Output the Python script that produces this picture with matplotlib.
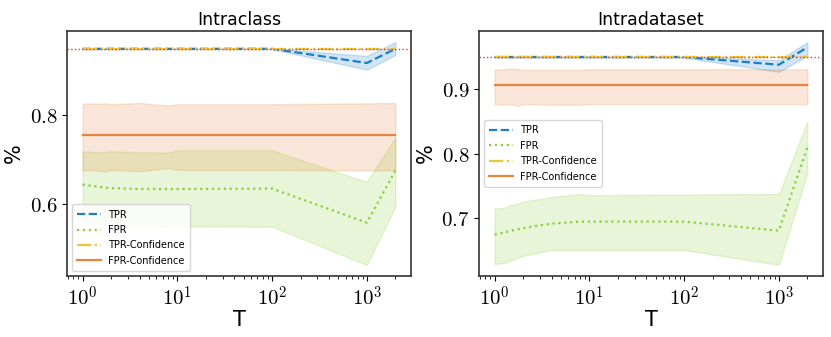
import numpy as np
import matplotlib
matplotlib.use("Agg")
import matplotlib.pyplot as plt
from matplotlib.ticker import FuncFormatter, LogLocator

plt.rcParams["mathtext.fontset"] = "cm"

# shared T values
T = [1, 1.25, 1.5, 1.75, 2, 4, 8, 10, 100, 1000, 2000]
target = 0.95

# Intraclass
ic_tpr = [0.950, 0.950, 0.950, 0.950, 0.950, 0.950, 0.950, 0.950, 0.950, 0.918, 0.950]
ic_tpr_lo = [0.949, 0.949, 0.949, 0.949, 0.949, 0.949, 0.949, 0.949, 0.949, 0.903, 0.936]
ic_tpr_hi = [0.951, 0.951, 0.951, 0.951, 0.951, 0.951, 0.951, 0.951, 0.951, 0.934, 0.965]
ic_fpr = [0.644, 0.641, 0.639, 0.637, 0.636, 0.634, 0.634, 0.634, 0.635, 0.558, 0.676]
ic_fpr_lo = [0.560, 0.558, 0.555, 0.553, 0.552, 0.550, 0.549, 0.550, 0.549, 0.463, 0.594]
ic_fpr_hi = [0.719, 0.718, 0.717, 0.718, 0.719, 0.717, 0.716, 0.721, 0.721, 0.650, 0.751]
ic_tconf = [0.950] * 11
ic_fconf = [0.755] * 11
ic_fconf_lo = [0.676, 0.677, 0.675, 0.673, 0.677, 0.674, 0.681, 0.677, 0.677, 0.676, 0.676]
ic_fconf_hi = [0.826, 0.827, 0.826, 0.827, 0.825, 0.828, 0.822, 0.825, 0.825, 0.827, 0.828]

# Intradataset
id_tpr = [0.950, 0.950, 0.950, 0.950, 0.950, 0.950, 0.950, 0.950, 0.950, 0.938, 0.965]
id_tpr_lo = [0.949, 0.949, 0.949, 0.949, 0.949, 0.949, 0.949, 0.949, 0.949, 0.927, 0.952]
id_tpr_hi = [0.951, 0.951, 0.951, 0.951, 0.951, 0.951, 0.951, 0.951, 0.951, 0.945, 0.973]
id_fpr = [0.675, 0.678, 0.681, 0.683, 0.685, 0.692, 0.695, 0.695, 0.695, 0.681, 0.810]
id_fpr_lo = [0.629, 0.631, 0.635, 0.639, 0.642, 0.651, 0.651, 0.651, 0.651, 0.628, 0.770]
id_fpr_hi = [0.715, 0.716, 0.721, 0.723, 0.726, 0.733, 0.738, 0.736, 0.737, 0.738, 0.850]
id_tconf = [0.950] * 11
id_fconf = [0.906] * 11
id_fconf_lo = [0.877, 0.876, 0.877, 0.874, 0.877, 0.876, 0.876, 0.877, 0.877, 0.877, 0.877]
id_fconf_hi = [0.930, 0.931, 0.932, 0.931, 0.930, 0.930, 0.930, 0.931, 0.931, 0.931, 0.931]

blue = "#1b7fc8"
green = "#8ccf3c"
yellow = "#ecc83a"
orange = "#e8853c"

panels = [
    ("Intraclass", ic_tpr, ic_tpr_lo, ic_tpr_hi, ic_fpr, ic_fpr_lo, ic_fpr_hi,
     ic_tconf, ic_fconf, ic_fconf_lo, ic_fconf_hi, [0.6, 0.8], "lower left"),
    ("Intradataset", id_tpr, id_tpr_lo, id_tpr_hi, id_fpr, id_fpr_lo, id_fpr_hi,
     id_tconf, id_fconf, id_fconf_lo, id_fconf_hi, [0.7, 0.8, 0.9], "center left"),
]

fig = plt.figure(figsize=(8.31, 3.37), dpi=100)
lefts = [0.0806, 0.5764]

for left, p in zip(lefts, panels):
    (title, tpr, tpr_lo, tpr_hi, fpr, fpr_lo, fpr_hi,
     tconf, fconf, fconf_lo, fconf_hi, yticks, loc) = p
    ax = fig.add_axes([left, 0.181, 0.414, 0.727])
    ax.set_xscale("log")

    ax.plot(T, tpr, color=blue, ls="--", lw=1.6, label="TPR")
    ax.fill_between(T, tpr_lo, tpr_hi, color=blue, alpha=0.2)
    ax.plot(T, fpr, color=green, ls=":", lw=1.6, label="FPR")
    ax.fill_between(T, fpr_lo, fpr_hi, color=green, alpha=0.2)
    ax.plot(T, tconf, color=yellow, ls="-.", lw=1.6, label="TPR-Confidence")
    ax.plot(T, fconf, color=orange, ls="-", lw=1.6, label="FPR-Confidence")
    ax.fill_between(T, fconf_lo, fconf_hi, color=orange, alpha=0.2)
    ax.axhline(target, color="#ff2a2a", ls=":", lw=1.0, zorder=5)

    ax.set_title(title, fontsize=12.5, pad=4)
    ax.set_xlabel("T", fontsize=15, labelpad=0)
    ax.set_ylabel("%", fontsize=15)
    ax.set_yticks(yticks)
    ax.yaxis.set_major_formatter(FuncFormatter(lambda v, pos: f"${v:.1f}$"))
    ax.xaxis.set_major_locator(LogLocator(base=10))
    ax.xaxis.set_major_formatter(FuncFormatter(lambda v, pos: f"$10^{{{int(round(np.log10(v)))}}}$"))
    ax.tick_params(axis="both", labelsize=15)
    for s in ax.spines.values():
        s.set_color("#333333")
        s.set_linewidth(1.2)

    ax.legend(loc=loc, fontsize=7, framealpha=0.8, edgecolor="#cccccc",
              handlelength=2.4, borderpad=0.55, labelspacing=0.55)

fig.savefig("out.png", dpi=100)
